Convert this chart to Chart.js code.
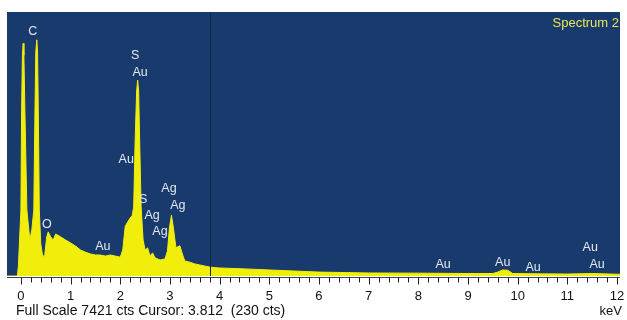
<!DOCTYPE html>
<html>
<head>
<meta charset="utf-8" />
<script src="https://cdn.jsdelivr.net/npm/chart.js@4.4.1/dist/chart.umd.min.js"></script>
<style>
  html, body { margin: 0; padding: 0; background: #ffffff; }
  #spectrum { display: block; }
</style>
</head>
<body>
<canvas id="spectrum" width="627" height="320"></canvas>
<script>
// spectrum: energy (keV) and counts
const energies = [
  -0.28, -0.07, -0.05, -0.03, 0.0, 0.014, 0.03, 0.046, 0.06, 0.08, 0.12, 0.18,
  0.22, 0.26, 0.283, 0.3, 0.32, 0.335, 0.35, 0.37, 0.4, 0.44, 0.48, 0.52, 0.55,
  0.6, 0.65, 0.7, 0.8, 0.9, 1.0, 1.1, 1.2, 1.3, 1.4, 1.5, 1.6, 1.7, 1.8, 1.9,
  2.0, 2.05, 2.1, 2.15, 2.2, 2.24, 2.27, 2.3, 2.33, 2.35, 2.37, 2.39, 2.42, 2.46,
  2.5, 2.55, 2.6, 2.65, 2.7, 2.8, 2.9, 2.95, 2.99, 3.03, 3.07, 3.12, 3.16, 3.2,
  3.25, 3.3, 3.4, 3.5, 3.6, 3.7, 3.8, 4.0, 4.5, 5.0, 5.5, 6.0, 7.0, 8.0,
  8.5, 9.0, 9.5, 9.6, 9.7, 9.8, 9.9, 10.5, 11.0, 11.5, 12.0, 12.06,
];
const counts = [
  0, 0, 300, 930, 1855, 4660, 6200, 6540, 6200, 4660, 1855, 1010,
  1300, 1855, 4660, 6300, 6640, 6300, 4660, 1855, 900, 540, 600, 1100, 1240,
  1100, 1010, 1180, 1100, 1010, 930, 840, 730, 670, 620, 590, 590, 560, 590, 560,
  530, 730, 1400, 1520, 1630, 1700, 1940, 3820, 5200, 5510, 5200, 3820, 1940, 1010,
  730, 790, 560, 650, 510, 450, 480, 700, 1350, 1710, 1350, 800, 820, 850,
  620, 420, 390, 340, 310, 280, 250, 225, 200, 170, 140, 110, 85, 80,
  75, 70, 70, 110, 170, 160, 70, 60, 55, 70, 50, 50,
];

// element labels: text, energy, counts at text centre
const peakNames = ["C", "S", "Au", "Au", "S", "Ag", "Ag", "Ag", "Ag", "O", "Au", "Au", "Au", "Au", "Au", "Au"];
const peakEnergies = [0.24, 2.3, 2.4, 2.12, 2.46, 2.64, 2.8, 2.98, 3.16, 0.52, 1.65, 8.5, 9.7, 10.31, 11.46, 11.6];
const peakCounts = [6860, 6210, 5730, 3260, 2160, 1690, 1260, 2470, 1970, 1460, 815, 310, 365, 250, 790, 310];

const tickLabels = ["0", "1", "2", "3", "4", "5", "6", "7", "8", "9", "10", "11", "12"];
const fullScale = 7421;
const cursorEnergy = 3.812;
const spectrumTitle = "Spectrum 2";
const footerText = "Full Scale 7421 cts Cursor: 3.812  (230 cts)";

const canvas = document.querySelector("#spectrum");
const font = (size) => `${size}px 'Liberation Sans', Arial, sans-serif`;

const spectrumDecor = {
  id: "spectrumDecor",
  beforeDatasetsDraw(chart) {
    const { ctx, chartArea } = chart;
    ctx.save();
    ctx.fillStyle = "#183a6c";
    ctx.fillRect(chartArea.left, chartArea.top, chartArea.right - chartArea.left, chartArea.bottom - chartArea.top);
    ctx.restore();
  },
  afterDatasetsDraw(chart) {
    const { ctx, chartArea, scales } = chart;
    const x = scales.x;
    const y = scales.y;
    ctx.save();

    // cursor line
    const cx = Math.round(x.getPixelForValue(cursorEnergy)) + 0.5;
    ctx.strokeStyle = "#0e2648";
    ctx.lineWidth = 1;
    ctx.beginPath();
    ctx.moveTo(cx, chartArea.top);
    ctx.lineTo(cx, chartArea.bottom);
    ctx.stroke();

    // axis line + ticks every 0.2 keV
    const base = chartArea.bottom + 1.5;
    ctx.strokeStyle = "#444";
    ctx.beginPath();
    ctx.moveTo(chartArea.left, base);
    ctx.lineTo(chartArea.right, base);
    ctx.stroke();
    ctx.strokeStyle = "#222";
    for (let i = 0; i <= 60; i++) {
      const px = Math.round(x.getPixelForValue(i * 0.2)) + 0.5;
      const len = i % 5 === 0 ? 7 : 5;
      ctx.beginPath();
      ctx.moveTo(px, base);
      ctx.lineTo(px, base + len);
      ctx.stroke();
    }

    // tick labels
    ctx.fillStyle = "#111";
    ctx.font = font(13);
    ctx.textAlign = "center";
    ctx.textBaseline = "middle";
    tickLabels.forEach((t, i) => {
      ctx.fillText(t, x.getPixelForValue(i), chartArea.bottom + 20);
    });

    // peak labels
    ctx.fillStyle = "#e4e8ee";
    ctx.font = font(12.5);
    peakNames.forEach((name, i) => {
      ctx.fillText(name, x.getPixelForValue(peakEnergies[i]), y.getPixelForValue(peakCounts[i]));
    });

    // title
    ctx.fillStyle = "#e6e65a";
    ctx.textAlign = "right";
    ctx.font = font(13);
    ctx.fillText(spectrumTitle, chartArea.right - 1, chartArea.top + 11);

    // footer
    ctx.fillStyle = "#111";
    ctx.font = font(14);
    ctx.textAlign = "left";
    ctx.fillText(footerText, 16, chartArea.bottom + 35);
    ctx.textAlign = "right";
    ctx.font = font(13);
    ctx.fillText("keV", chartArea.right + 2, chartArea.bottom + 35);
    ctx.restore();
  },
};

const spectrumChart = new Chart(canvas, {
  type: "line",
  data: {
    datasets: [
      {
        label: spectrumTitle,
        data: energies.map((e, i) => ({ x: e, y: counts[i] })),
        borderColor: "#f2ee0c",
        backgroundColor: "#f2ee0c",
        borderWidth: 1,
        fill: "origin",
        pointRadius: 0,
        tension: 0,
      },
    ],
  },
  options: {
    responsive: false,
    animation: false,
    layout: {
      padding: { left: 7, right: 7, top: 12, bottom: 44 },
    },
    plugins: {
      legend: { display: false },
      tooltip: { enabled: false },
    },
    scales: {
      x: { type: "linear", min: -0.28, max: 12.06, display: false },
      y: { min: 0, max: fullScale, display: false },
    },
  },
  plugins: [spectrumDecor],
});
</script>
</body>
</html>
